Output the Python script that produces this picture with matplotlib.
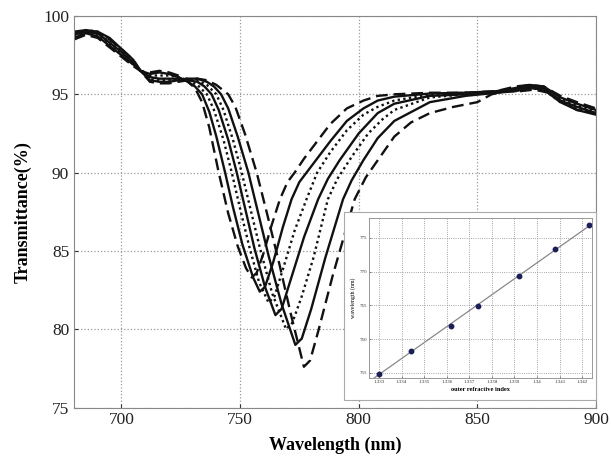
import matplotlib
matplotlib.use('Agg')
import matplotlib.pyplot as plt
from matplotlib.patches import Rectangle
import numpy as np

plt.rcParams['font.family'] = ['Liberation Serif', 'DejaVu Serif']

# transmission spectra, one per outer refractive index
wl_1 = [680, 685, 690, 695, 700, 705, 708, 712, 716, 720, 724, 728, 731, 734, 737, 741, 745, 749, 752.5, 754.9,
        757, 760, 763, 766.8, 770, 773, 777, 782, 788, 795, 802, 808, 815, 830, 845, 858, 866, 872, 878, 885, 892, 900]
t_1 = [98.5, 98.8, 98.6, 98.0, 97.4, 96.8, 96.5, 96.4, 96.5, 96.4, 96.2, 95.8, 95.4, 94.5, 92.9, 90.0, 87.4, 85.3, 83.9, 83.3,
       83.6, 84.9, 86.5, 88.3, 89.4, 90.0, 90.9, 91.9, 93.1, 94.1, 94.6, 94.9, 95.0, 95.1, 95.1, 95.2, 95.5, 95.6, 95.5, 94.9, 94.5, 94.1]

wl_2 = [680, 685, 690, 695, 700, 705, 708, 712, 716, 720, 724, 728, 731, 734, 737, 740, 743.7, 747, 751, 755.5, 758.3,
        760.5, 764, 768, 771.7, 775, 778, 782, 788, 795, 802, 808, 815, 830, 845, 858, 866, 872, 878, 885, 892, 900]
t_2 = [98.6, 98.9, 98.7, 98.1, 97.5, 96.9, 96.5, 96.3, 96.4, 96.3, 96.1, 95.8, 95.5, 95.0, 93.9, 92.3, 90.0, 87.8, 85.4, 83.3, 82.4,
       82.7, 84.3, 86.5, 88.3, 89.4, 90.0, 90.8, 92.0, 93.3, 94.1, 94.6, 94.85, 95.05, 95.1, 95.2, 95.4, 95.6, 95.5, 94.8, 94.4, 94.0]

wl_3 = [680, 685, 690, 695, 700, 705, 708, 712, 716, 720, 724, 728, 732, 736, 739, 743, 746.5, 750, 754, 758, 762,
        764.5, 768, 773, 778, 782.5, 788, 795, 802, 808, 815, 830, 845, 858, 866, 872, 878, 885, 892, 900]
t_3 = [98.7, 99.0, 98.8, 98.2, 97.6, 96.9, 96.5, 96.2, 96.2, 96.2, 96.1, 95.9, 95.6, 95.0, 94.0, 92.1, 90.0, 87.7, 85.2, 83.0, 81.7,
       82.1, 83.8, 86.3, 88.3, 90.0, 91.3, 92.7, 93.7, 94.2, 94.6, 95.0, 95.1, 95.1, 95.3, 95.5, 95.4, 94.7, 94.3, 93.9]

wl_4 = [680, 685, 690, 695, 700, 705, 708, 712, 716, 720, 724, 728, 732, 735, 738, 741, 745, 748.6, 752, 756, 760.5, 764.9,
        767.5, 771, 777, 782.9, 787, 792, 800, 808, 815, 830, 845, 858, 866, 872, 878, 885, 892, 900]
t_4 = [98.8, 99.0, 98.9, 98.3, 97.7, 97.0, 96.5, 96.1, 96.0, 96.0, 96.0, 95.9, 95.8, 95.5, 95.0, 94.0, 92.1, 90.0, 87.8, 85.2, 82.7, 80.9,
       81.3, 83.0, 85.9, 88.3, 89.6, 90.8, 92.5, 93.8, 94.4, 94.9, 95.0, 95.1, 95.3, 95.5, 95.4, 94.6, 94.2, 93.8]

wl_5 = [680, 685, 690, 695, 700, 705, 708, 712, 716, 720, 724, 728, 732, 736, 740, 743, 747, 750.7, 754.5, 758.5, 763.5, 769.4,
        772, 776, 781, 787, 791, 797, 804, 810, 815, 830, 845, 858, 866, 872, 878, 885, 892, 900]
t_5 = [98.9, 99.1, 99.0, 98.5, 97.8, 97.1, 96.5, 96.0, 95.9, 95.9, 96.0, 96.0, 95.9, 95.6, 95.0, 94.0, 92.1, 90.0, 87.6, 85.1, 82.3, 80.0,
       80.4, 82.1, 84.6, 88.3, 89.6, 91.0, 92.5, 93.4, 94.0, 94.8, 95.0, 95.1, 95.3, 95.4, 95.3, 94.5, 94.1, 93.8]

wl_6 = [680, 685, 690, 695, 700, 705, 708, 712, 716, 720, 724, 728, 732, 736, 739, 742, 745, 749, 753.5, 757.5, 762, 767.5, 773.3,
        776, 780, 786, 793.4, 797, 802, 808, 815, 830, 845, 858, 866, 872, 878, 885, 892, 900]
t_6 = [99.0, 99.1, 99.0, 98.6, 97.9, 97.2, 96.5, 95.9, 95.8, 95.8, 95.9, 96.0, 96.0, 95.8, 95.5, 95.0, 94.1, 92.3, 90.0, 87.5, 84.7, 81.6, 79.0,
       79.4, 81.3, 84.6, 88.3, 89.5, 90.8, 92.2, 93.3, 94.5, 94.9, 95.1, 95.2, 95.4, 95.3, 94.5, 94.0, 93.7]

wl_7 = [680, 685, 690, 695, 700, 705, 708, 712, 716, 720, 724, 728, 732, 736, 740, 745, 748, 752, 757, 761.5, 766.5, 771.5, 776.9,
        779.5, 783, 789, 798.3, 803, 809, 815, 822, 830, 840, 850, 856, 862, 868, 874, 880, 886, 892, 900]
t_7 = [98.9, 99.0, 98.9, 98.5, 97.9, 97.2, 96.5, 95.8, 95.7, 95.7, 95.8, 95.9, 96.0, 95.9, 95.6, 95.0, 94.2, 92.5, 90.0, 87.3, 84.2, 80.9, 77.6,
       78.0, 79.9, 83.4, 88.3, 89.7, 91.0, 92.3, 93.2, 93.8, 94.2, 94.5, 95.0, 95.2, 95.2, 95.3, 95.1, 94.5, 94.0, 93.8]

# inset: resonance wavelength vs outer refractive index
ri = [1.3330, 1.3344, 1.3362, 1.3374, 1.3392, 1.3408, 1.3423]
dip_wl = [754.9, 758.3, 762.0, 764.9, 769.4, 773.3, 776.9]

main_xticks = [700, 750, 800, 850, 900]
main_yticks = [75, 80, 85, 90, 95, 100]
inset_xticks = [1.333, 1.334, 1.335, 1.336, 1.337, 1.338, 1.339, 1.340, 1.341, 1.342]
inset_xticklabels = ['1.333', '1.334', '1.335', '1.336', '1.337', '1.338', '1.339', '1.34', '1.341', '1.342']
inset_yticks = [755, 760, 765, 770, 775]

spectra = [(wl_1, t_1), (wl_2, t_2), (wl_3, t_3), (wl_4, t_4), (wl_5, t_5), (wl_6, t_6), (wl_7, t_7)]
styles = [(0, (5, 2.5)), '-', (0, (1, 1.4)), '-', (0, (1, 1.4)), '-', (0, (5, 2.5))]

fig = plt.figure(figsize=(6.11, 4.59), dpi=100)
ax = fig.add_axes([0.1211, 0.1122, 0.8543, 0.8529])

for (w, t), ls in zip(spectra, styles):
    ax.plot(w, t, color='#111111', lw=1.7, linestyle=ls)

ax.set_xlim(680, 900)
ax.set_ylim(75, 100)
ax.set_xticks(main_xticks)
ax.set_yticks(main_yticks)
ax.grid(True, linestyle=':', color='#999999', lw=0.9)
ax.tick_params(direction='in', labelsize=12.5, colors='#333333', length=3, labelcolor='#222222')
for s in ax.spines.values():
    s.set_color('#888888')
ax.set_xlabel('Wavelength (nm)', fontsize=13, fontweight='bold', labelpad=6)
ax.set_ylabel('Transmittance(%)', fontsize=13, fontweight='bold', labelpad=8)

# white backing box of the inset
fig.add_artist(Rectangle((0.563, 0.1286), 0.9755 - 0.563, 0.538 - 0.1286, transform=fig.transFigure,
                         facecolor='white', edgecolor='#aaaaaa', lw=0.8, zorder=2))

ins = fig.add_axes([0.6039, 0.1758, 0.365, 0.3486])
ins.set_zorder(3)
fit = np.polyfit(ri, dip_wl, 1)
xx = np.array([1.3320, 1.3430])
ins.plot(xx, np.polyval(fit, xx), color='#888888', lw=0.9)
ins.plot(ri, dip_wl, 'o', color='#1a1f5a', ms=3.2)
ins.set_xlim(1.33256, 1.34243)
ins.set_ylim(754.2, 777.9)
ins.set_xticks(inset_xticks)
ins.set_xticklabels(inset_xticklabels)
ins.set_yticks(inset_yticks)
ins.grid(True, linestyle=':', color='#888888', lw=0.6)
ins.tick_params(direction='in', labelsize=3.6, length=1.5, width=0.5, pad=1.5, colors='#555555', labelcolor='#333333')
for s in ins.spines.values():
    s.set_color('#888888')
    s.set_linewidth(0.6)
ins.set_xlabel('outer refractive index', fontsize=4.6, fontweight='bold', labelpad=2)
ins.set_ylabel('wavelength (nm)', fontsize=4.2, labelpad=2)

fig.savefig('out.png', dpi=100)
